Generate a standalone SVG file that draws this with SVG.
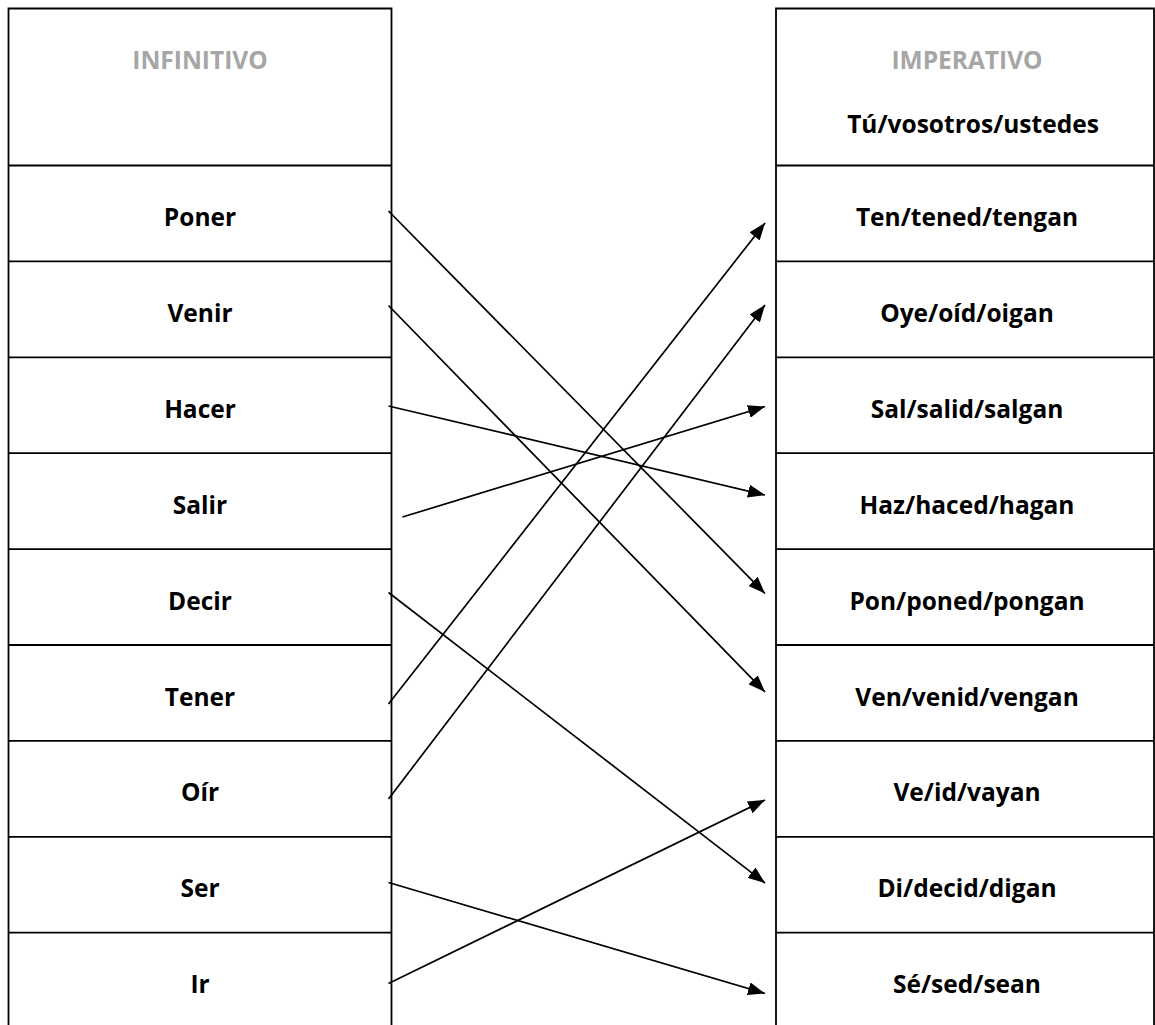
<svg xmlns="http://www.w3.org/2000/svg" width="1155" height="1025" viewBox="0 0 1155 1025">
<style>
.tbl{fill:none;stroke:#000;stroke-width:1.8}
.t{font-family:"Open Sans","Liberation Sans",sans-serif;font-weight:bold;font-size:24.5px;fill:#000;text-anchor:middle}
.h{fill:#a6a6a6}
.c{stroke:#000;stroke-width:1.7;fill:none;marker-end:url(#ah)}
</style>
<defs>
<marker id="ah" viewBox="0 0 17 13" markerWidth="17" markerHeight="13" refX="17" refY="6.5" orient="auto" markerUnits="userSpaceOnUse">
<path d="M0,0 L17,6.5 L0,13 Z" fill="#000"/>
</marker>
</defs>
<rect width="1155" height="1025" fill="#fff"/>
<g id="left-table">
<path class="tbl" d="M8.5,1030 V8.5 H391.5 V1030 M8.5,165.5 H391.5 M8.5,261.4 H391.5 M8.5,357.3 H391.5 M8.5,453.2 H391.5 M8.5,549.1 H391.5 M8.5,645 H391.5 M8.5,740.9 H391.5 M8.5,836.8 H391.5 M8.5,932.7 H391.5"/>
</g>
<g id="right-table">
<path class="tbl" d="M776,1030 V8.5 H1154 V1030 M776,165.5 H1154 M776,261.4 H1154 M776,357.3 H1154 M776,453.2 H1154 M776,549.1 H1154 M776,645 H1154 M776,740.9 H1154 M776,836.8 H1154 M776,932.7 H1154"/>
</g>
<g id="n-infinitivo"><text class="t h" x="200" y="69">INFINITIVO</text></g>
<g id="n-imperativo"><text class="t h" x="967" y="69">IMPERATIVO</text><text class="t" x="973" y="133">Tú/vosotros/ustedes</text></g>
<g id="n-poner"><text class="t" x="200" y="226">Poner</text></g>
<g id="n-venir"><text class="t" x="200" y="322">Venir</text></g>
<g id="n-hacer"><text class="t" x="200" y="418">Hacer</text></g>
<g id="n-salir"><text class="t" x="200" y="514">Salir</text></g>
<g id="n-decir"><text class="t" x="200" y="610">Decir</text></g>
<g id="n-tener"><text class="t" x="200" y="706">Tener</text></g>
<g id="n-oir"><text class="t" x="200" y="801">Oír</text></g>
<g id="n-ser"><text class="t" x="200" y="897">Ser</text></g>
<g id="n-ir"><text class="t" x="200" y="993">Ir</text></g>
<g id="n-ten"><text class="t" x="967" y="226">Ten/tened/tengan</text></g>
<g id="n-oye"><text class="t" x="967" y="322">Oye/oíd/oigan</text></g>
<g id="n-sal"><text class="t" x="967" y="418">Sal/salid/salgan</text></g>
<g id="n-haz"><text class="t" x="967" y="514">Haz/haced/hagan</text></g>
<g id="n-pon"><text class="t" x="967" y="610">Pon/poned/pongan</text></g>
<g id="n-ven"><text class="t" x="967" y="706">Ven/venid/vengan</text></g>
<g id="n-ve"><text class="t" x="967" y="801">Ve/id/vayan</text></g>
<g id="n-di"><text class="t" x="967" y="897">Di/decid/digan</text></g>
<g id="n-se"><text class="t" x="967" y="993">Sé/sed/sean</text></g>
<g id="connectors">
<line class="c" x1="388.5" y1="211" x2="765" y2="593.5"/>
<line class="c" x1="388.5" y1="305.5" x2="765" y2="692"/>
<line class="c" x1="388.5" y1="406" x2="765" y2="495"/>
<line class="c" x1="402.5" y1="517" x2="765" y2="406.5"/>
<line class="c" x1="388.5" y1="592.5" x2="765" y2="883"/>
<line class="c" x1="388.5" y1="704" x2="765" y2="223"/>
<line class="c" x1="388.5" y1="799" x2="765" y2="305"/>
<line class="c" x1="388.5" y1="882.5" x2="765" y2="993.5"/>
<line class="c" x1="388.5" y1="983.5" x2="765" y2="800"/>
</g>
</svg>
